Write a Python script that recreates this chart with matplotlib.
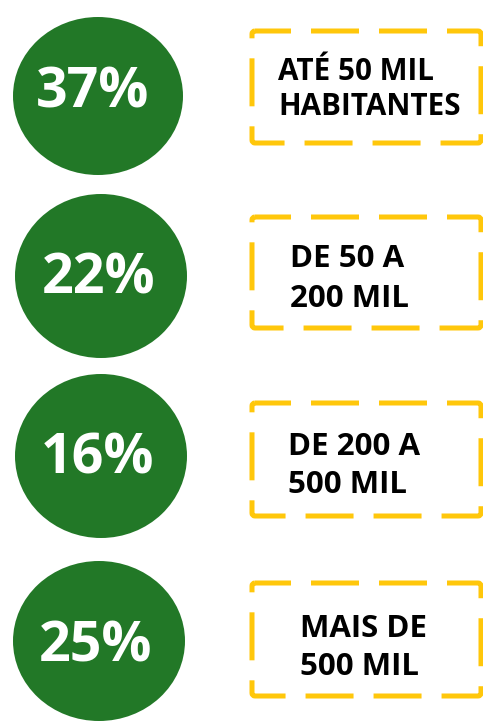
import matplotlib
matplotlib.use("Agg")
import matplotlib.pyplot as plt
from matplotlib.patches import Ellipse, FancyBboxPatch

plt.rcParams['font.family'] = ['Open Sans', 'DejaVu Sans']
plt.rcParams['lines.scale_dashes'] = False

# Data
percentages = [37, 22, 16, 25]
labels_line1 = ["ATÉ 50 MIL", "DE 50 A", "DE 200 A", "MAIS DE"]
labels_line2 = ["HABITANTES", "200 MIL", "500 MIL", "500 MIL"]

# Layout (pixels, y downward)
circle_cx = [98, 101, 101, 99]
circle_cy = [96, 276, 456, 641]
circle_rx = [85, 86, 86, 86]
circle_ry = [79, 82, 82, 80]
pct_x = [93, 99, 98, 96]
pct_base = [107, 293, 473, 661]
box_top = [31, 217, 403, 583]
box_bot = [143, 328, 516, 696]
box_left = 252
box_right = 481
text_x = [278, 290, 288, 300]
base1 = [80, 267, 455, 637]
base2 = [115, 307, 493, 675]
label_fs = [21.3, 22.5, 22.5, 22.5]

GREEN = "#227827"
YELLOW = "#FFC70B"

W, H = 483, 721
fig = plt.figure(figsize=(W / 100, H / 100), dpi=100)
ax = fig.add_axes([0, 0, 1, 1])
ax.set_xlim(0, W)
ax.set_ylim(H, 0)
ax.axis('off')

px = 0.72  # points per pixel at dpi 100

for i, p in enumerate(percentages):
    ax.add_patch(Ellipse((circle_cx[i], circle_cy[i]), 2 * circle_rx[i], 2 * circle_ry[i],
                         facecolor=GREEN, edgecolor='none'))
    ax.text(pct_x[i], pct_base[i], f"{p}%", color='white', fontsize=40, fontweight='bold',
            ha='center', va='baseline')
    box = FancyBboxPatch((box_left, box_top[i]), box_right - box_left, box_bot[i] - box_top[i],
                         boxstyle="round,pad=0,rounding_size=3",
                         facecolor='white', edgecolor=YELLOW, linewidth=5 * px,
                         linestyle=(12 * px, (48 * px, 20 * px)), joinstyle='round')
    ax.add_patch(box)
    ax.text(text_x[i], base1[i], labels_line1[i], color='black', fontsize=label_fs[i],
            fontweight='bold', ha='left', va='baseline')
    ax.text(text_x[i], base2[i], labels_line2[i], color='black', fontsize=label_fs[i],
            fontweight='bold', ha='left', va='baseline')

fig.savefig("out.png", dpi=100, facecolor='white')
